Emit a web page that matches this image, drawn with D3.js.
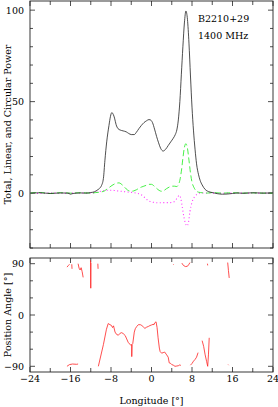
<!DOCTYPE html>
<html lang="en">
<head>
<meta charset="utf-8">
<title>B2210+29 polarization profile</title>
<script src="https://cdn.jsdelivr.net/npm/d3@7"></script>
<style>
  body { margin: 0; background: #fff; }
  text { font-family: "DejaVu Serif", "Liberation Serif", serif; fill: #000; }
</style>
</head>
<body>
<script>
// longitude / value pairs
var totalPower = [[-24,0],[-22,0.2],[-20,-0.2],[-18,0.1],[-16.5,0],[-16,-0.6],[-15.5,-0.2],[-14,0.1],[-13,0],[-12,0.3],
  [-11.2,0.8],[-10.8,1.5],[-10.3,2.5],[-9.9,4],[-9.5,8],[-9.2,18],[-8.85,28],[-8.4,37],[-8.1,42],[-7.85,44],[-7.55,43],
  [-7.3,41],[-7.0,37.5],[-6.6,35.2],[-6.2,34.5],[-5.6,34],[-5.0,33.5],[-4.5,32.6],[-4.0,32],[-3.4,32],[-3.0,33.2],
  [-2.5,35.2],[-2.0,37],[-1.5,38.5],[-1.0,39.5],[-0.5,40.2],[-0.2,40],[0.2,38.5],[0.6,35],[1.0,31],[1.4,27.5],[1.8,24.5],
  [2.3,23],[2.8,24],[3.3,26],[3.8,28],[4.3,30],[4.7,32],[5.0,34.5],[5.3,40],[5.6,50],[5.9,65],[6.2,80],[6.5,93],[6.8,99.5],
  [7.1,95],[7.4,82],[7.7,64],[8.0,47],[8.3,34],[8.6,24],[8.9,16],[9.3,10],[9.6,7],[10.0,4.5],[10.6,2],[11.3,0.8],
  [12.2,0.2],[13,-0.3],[14,-0.6],[15,-0.5],[16,-0.2],[17,0.1],[18,-0.1],[20,0.2],[22,0],[24,0.1]];

var linearPower = [[-24,0],[-22,0.3],[-20,-0.2],[-18,0.2],[-16,0],[-14,0.2],[-12,0],[-11,0.3],[-10,0.6],[-9.3,1.2],
  [-8.8,2.2],[-8.3,3.2],[-7.8,4.2],[-7.3,5],[-6.8,5.5],[-6.4,5.6],[-6.0,5],[-5.5,3.8],[-5.0,2.3],[-4.5,1.3],[-4.0,1],
  [-3.5,1.2],[-3.0,1.8],[-2.5,2.6],[-2.0,3.3],[-1.5,3.8],[-1.0,4.3],[-0.5,4.8],[0,4.8],[0.5,3.9],[1.0,2.6],[1.5,1.5],
  [2.0,1],[2.5,1.5],[3.0,2.5],[3.5,3.3],[4.0,3.8],[4.5,3.8],[5.0,3.6],[5.3,4.5],[5.6,7],[5.9,12],[6.2,19],[6.5,25],
  [6.8,27],[7.1,24.5],[7.4,18],[7.7,11],[8.0,6],[8.4,3],[8.8,1.3],[9.3,0.5],[10,0.2],[11,0],[12,0.3],[14,0],[16,0.2],
  [18,0],[20,0.1],[22,0],[24,0]];

var circularPower = [[-24,0],[-22,-0.2],[-20,0.1],[-18,-0.1],[-16,0],[-14,0.1],[-12,0],[-11,0.5],[-10,1],[-9,1.5],
  [-8,1.6],[-7,1.3],[-6,1],[-5,0.7],[-4,0.4],[-3,0],[-2.3,-0.5],[-1.7,-1.5],[-1.2,-2.8],[-0.7,-4],[0,-4.8],[0.5,-5.1],
  [1.5,-5.3],[2.5,-5.2],[3.5,-5.2],[4.2,-5],[4.7,-4.2],[5.1,-2.5],[5.5,-1.2],[5.8,-3],[6.1,-8],[6.4,-13],[6.7,-16.5],
  [7.0,-18],[7.3,-16],[7.6,-10],[8.0,-5],[8.5,-2],[9.0,-0.6],[9.5,0],[11,0.1],[13,-0.1],[16,0],[20,0],[24,0]];

// position angle track, null = gap
var posAngle = [
  [-16.7,84],[-16.4,87],[-16.2,89], null,
  [-15.75,89],[-15.7,81], null,
  [-14.5,90],[-14.3,82],[-14.1,79],[-13.9,83],[-13.7,76],[-13.5,66], null,
  [-12.05,96],[-12.0,47],[-11.95,92], null,
  [-10.6,90],[-10.55,81], null,
  [-16.7,-90],[-16.2,-87],[-15.6,-86],[-14.8,-86.5],[-14.5,-86], null,
  [-10.5,-90],[-9.5,-52],[-8.9,-25],[-8.55,-15],[-8.2,-17],[-7.95,-18],[-7.7,-22],[-7.5,-19],[-7.2,-30],[-6.9,-34],
  [-6.55,-35.5],[-6.2,-32],[-5.9,-31],[-5.6,-32.5],[-5.2,-36],[-4.9,-42],[-4.6,-48],[-4.3,-51],[-4.1,-53],[-3.9,-52],
  [-3.9,-73],[-3.85,-52],[-3.7,-50],[-3.4,-30],[-3.2,-24],[-2.9,-20],[-2.6,-17],[-2.2,-17],[-1.9,-18.5],[-1.6,-21],
  [-1.3,-23.5],[-1.0,-21.5],[-0.6,-20],[-0.3,-18.5],[0,-17.5],[0.3,-16.5],[0.5,-17],[0.6,-14],[0.9,-12],[1.1,-22],
  [1.3,-40],[1.55,-58],[1.7,-64],[2.0,-67],[2.3,-66],[2.6,-65],[3.0,-70],[3.3,-74],[3.5,-84],[3.8,-85],[4.0,-87],
  [4.3,-88],[4.64,-90],[5.0,-89.5],[5.3,-89],[5.6,-87.5],[5.8,-88.5], null,
  [4.3,89],[4.4,88], null,
  [6.0,91],[6.3,87],[6.7,85],[7.1,85.5],[7.4,89],[7.6,92], null,
  [7.7,-88],[8.0,-85],[8.3,-81],[8.6,-78],[8.9,-74],[9.2,-66], null,
  [10.0,-45],[10.3,-55],[10.6,-70],[10.9,-82],[11.1,-90],[11.25,-70],[11.4,-40], null,
  [11.05,90],[11.1,87], null,
  [15.05,92],[15.2,78],[15.35,65], null,
  [15.15,-87],[15.25,-88]
];

var lonTicks = [-24,-20,-16,-12,-8,-4,0,4,8,12,16,20,24];
var lonLabels = [-24,-16,-8,0,8,16,24];
var powerTicks = [-30,-20,-10,0,10,20,30,40,50,60,70,80,90,100];
var powerLabels = [0,50,100];
var paTicks = [-90,-60,-30,0,30,60,90];
var paLabels = [-90,0,90];

var W = 278, H = 407;
var left = 30, right = 273;
var svg = d3.select("body").append("svg").attr("width", W).attr("height", H);

var x = d3.scaleLinear().domain([-24, 24]).range([left, right]);
var yP = d3.scaleLinear().domain([-30, 105]).range([248, 1]);
var yA = d3.scaleLinear().domain([-100, 100]).range([372, 258]);

function fmt(v) { return v < 0 ? "\u2212" + Math.abs(v) : String(v); }

function frame(y, yTicks, yLabels, xLabels) {
  var top = y.range()[1], bot = y.range()[0];
  var g = svg.append("g");
  // x ticks on top and bottom
  lonTicks.forEach(function(t) {
    var len = (t % 8 === 0) ? 5 : 4;
    g.append("line").attr("x1", x(t)).attr("x2", x(t)).attr("y1", bot).attr("y2", bot - len);
    g.append("line").attr("x1", x(t)).attr("x2", x(t)).attr("y1", top).attr("y2", top + len);
  });
  yTicks.forEach(function(t) {
    var len = yLabels.indexOf(t) >= 0 ? 5 : 3;
    g.append("line").attr("x1", left).attr("x2", left + len).attr("y1", y(t)).attr("y2", y(t));
    g.append("line").attr("x1", right).attr("x2", right - len).attr("y1", y(t)).attr("y2", y(t));
  });
  g.selectAll("line").attr("stroke", "#222").attr("stroke-width", 0.8);
  g.append("rect").attr("x", left).attr("y", top).attr("width", right - left).attr("height", bot - top)
    .attr("fill", "none").attr("stroke", "#222").attr("stroke-width", 0.9);
  g.selectAll("text.yl").data(yLabels).enter().append("text")
    .attr("x", left - 6).attr("y", function(d) { return y(d) + 3.5; })
    .attr("text-anchor", "end").attr("font-size", "9.5px").text(fmt);
  if (xLabels) {
    g.selectAll("text.xl").data(xLabels).enter().append("text")
      .attr("x", function(d) { return x(d); }).attr("y", bot + 10)
      .attr("text-anchor", "middle").attr("font-size", "9.5px").text(fmt);
  }
}

frame(yP, powerTicks, powerLabels, null);
frame(yA, paTicks, paLabels, lonLabels);

var lineP = d3.line().x(function(d) { return x(d[0]); }).y(function(d) { return yP(d[1]); }).curve(d3.curveMonotoneX);
var lineA = d3.line().defined(function(d) { return d !== null; })
  .x(function(d) { return x(d[0]); }).y(function(d) { return yA(d[1]); });

svg.append("path").datum(circularPower).attr("d", lineP).attr("fill", "none")
  .attr("stroke", "#ff33ff").attr("stroke-width", 1.1).attr("stroke-dasharray", "1,2.5");
svg.append("path").datum(linearPower).attr("d", lineP).attr("fill", "none")
  .attr("stroke", "#33ee33").attr("stroke-width", 0.9).attr("stroke-dasharray", "6,3");
svg.append("path").datum(totalPower).attr("d", lineP).attr("fill", "none")
  .attr("stroke", "#222").attr("stroke-width", 0.8);

svg.append("path").datum(posAngle).attr("d", lineA).attr("fill", "none")
  .attr("stroke", "#ff2222").attr("stroke-width", 0.8);

svg.append("text").attr("x", 198).attr("y", 21.5).attr("font-size", "9.5px").text("B2210+29");
svg.append("text").attr("x", 198).attr("y", 38.5).attr("font-size", "9.5px").text("1400 MHz");

svg.append("text").attr("transform", "translate(11,124.5) rotate(-90)").attr("text-anchor", "middle")
  .attr("font-size", "9.5px").text("Total, Linear, and Circular Power");
svg.append("text").attr("transform", "translate(11,315) rotate(-90)").attr("text-anchor", "middle")
  .attr("font-size", "9.5px").text("Position Angle [\u00b0]");
svg.append("text").attr("x", 151.5).attr("y", 404).attr("text-anchor", "middle")
  .attr("font-size", "9.5px").text("Longitude [\u00b0]");
</script>
</body>
</html>
